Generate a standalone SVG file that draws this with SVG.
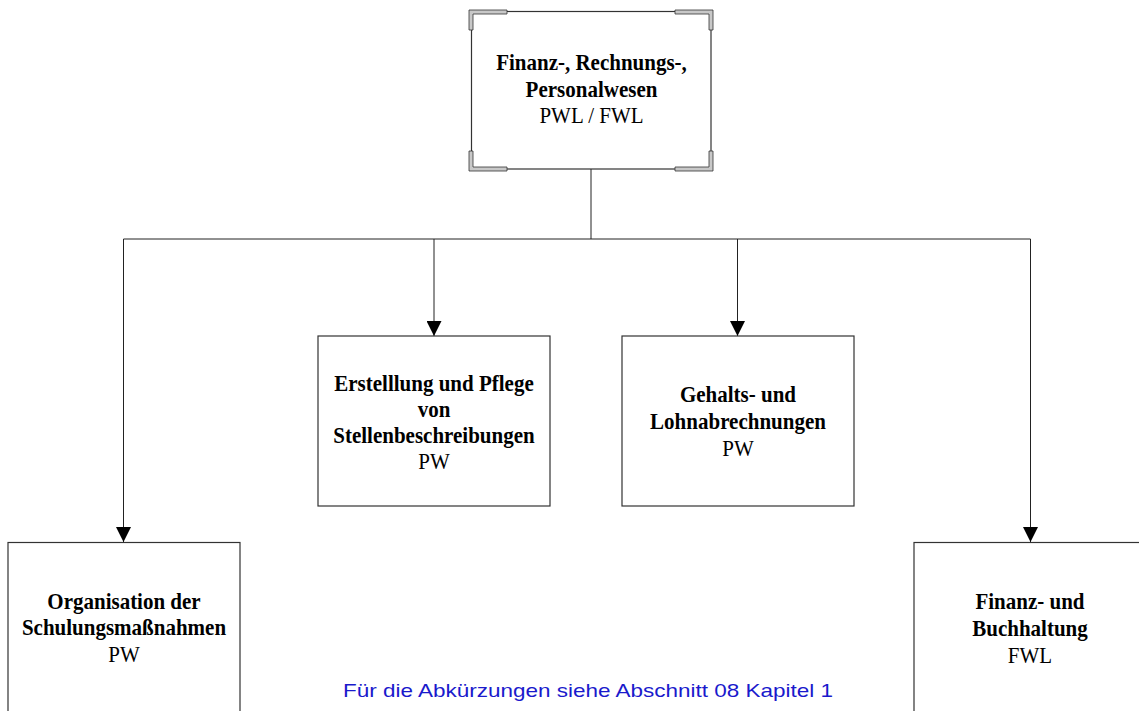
<svg xmlns="http://www.w3.org/2000/svg" width="1139" height="711" viewBox="0 0 1139 711">
  <style>
    .box { fill: #fff; stroke: #333; stroke-width: 1.2; }
    .wire { fill: none; stroke: #222; stroke-width: 1; }
    .brk { fill: #c8c8c8; stroke: #333; stroke-width: 0.8; }
    .t { font-family: "Liberation Serif", "Times New Roman", serif; font-size: 23px; text-anchor: middle; fill: #000; }
    .b { font-weight: bold; }
    .note { font-family: "Liberation Sans", Arial, sans-serif; font-size: 19px; fill: #1a1acc; text-anchor: middle; }
  </style>
  <defs>
    <marker id="arrow" viewBox="0 0 15 15" refX="15" refY="7.5" markerWidth="15" markerHeight="15" markerUnits="userSpaceOnUse" orient="auto">
      <path d="M0,0 L15,7.5 L0,15 Z" fill="#000"/>
    </marker>
  </defs>

  <!-- connectors -->
  <g id="connectors">
    <line class="wire" x1="591" y1="169" x2="591" y2="239"/>
    <line class="wire" x1="123.5" y1="239" x2="1030.5" y2="239"/>
    <line class="wire" x1="123.5" y1="239" x2="123.5" y2="542" marker-end="url(#arrow)"/>
    <line class="wire" x1="434" y1="239" x2="434" y2="336" marker-end="url(#arrow)"/>
    <line class="wire" x1="737.5" y1="239" x2="737.5" y2="336" marker-end="url(#arrow)"/>
    <line class="wire" x1="1030.5" y1="239" x2="1030.5" y2="542" marker-end="url(#arrow)"/>
  </g>

  <!-- root unit -->
  <g id="node-root">
    <rect class="box" x="471.5" y="11.5" width="239.5" height="157.5"/>
    <!-- corner brackets -->
    <path class="brk" d="M469,10 H507 V14 H473 V30 H469 Z"/>
    <path class="brk" d="M713,10 H675 V14 H709 V30 H713 Z"/>
    <path class="brk" d="M469,171 H507 V167 H473 V151 H469 Z"/>
    <path class="brk" d="M713,171 H675 V167 H709 V151 H713 Z"/>
    <g transform="translate(591.5,0) scale(0.913,1)">
      <text class="t b" x="0" y="70">Finanz-, Rechnungs-,</text>
      <text class="t b" x="0" y="97">Personalwesen</text>
      <text class="t" x="0" y="123">PWL / FWL</text>
    </g>
  </g>

  <g id="node-stellen">
    <rect class="box" x="318" y="336" width="232" height="170"/>
    <g transform="translate(434,0) scale(0.913,1)">
      <text class="t b" x="0" y="391">Erstelllung und Pflege</text>
      <text class="t b" x="0" y="417">von</text>
      <text class="t b" x="0" y="443">Stellenbeschreibungen</text>
      <text class="t" x="0" y="469">PW</text>
    </g>
  </g>

  <g id="node-gehalt">
    <rect class="box" x="622" y="336" width="232" height="170"/>
    <g transform="translate(738,0) scale(0.913,1)">
      <text class="t b" x="0" y="402">Gehalts- und</text>
      <text class="t b" x="0" y="429">Lohnabrechnungen</text>
      <text class="t" x="0" y="456">PW</text>
    </g>
  </g>

  <g id="node-schulung">
    <rect class="box" x="8" y="542.5" width="232" height="180"/>
    <g transform="translate(124,0) scale(0.913,1)">
      <text class="t b" x="0" y="609">Organisation der</text>
      <text class="t b" x="0" y="635">Schulungsmaßnahmen</text>
      <text class="t" x="0" y="662">PW</text>
    </g>
  </g>

  <g id="node-buchhaltung">
    <rect class="box" x="914" y="542.5" width="232" height="180"/>
    <g transform="translate(1030,0) scale(0.913,1)">
      <text class="t b" x="0" y="609">Finanz- und</text>
      <text class="t b" x="0" y="636">Buchhaltung</text>
      <text class="t" x="0" y="663">FWL</text>
    </g>
  </g>

  <text class="note" x="588" y="697" textLength="490" lengthAdjust="spacingAndGlyphs">Für die Abkürzungen siehe Abschnitt 08 Kapitel 1</text>
</svg>
